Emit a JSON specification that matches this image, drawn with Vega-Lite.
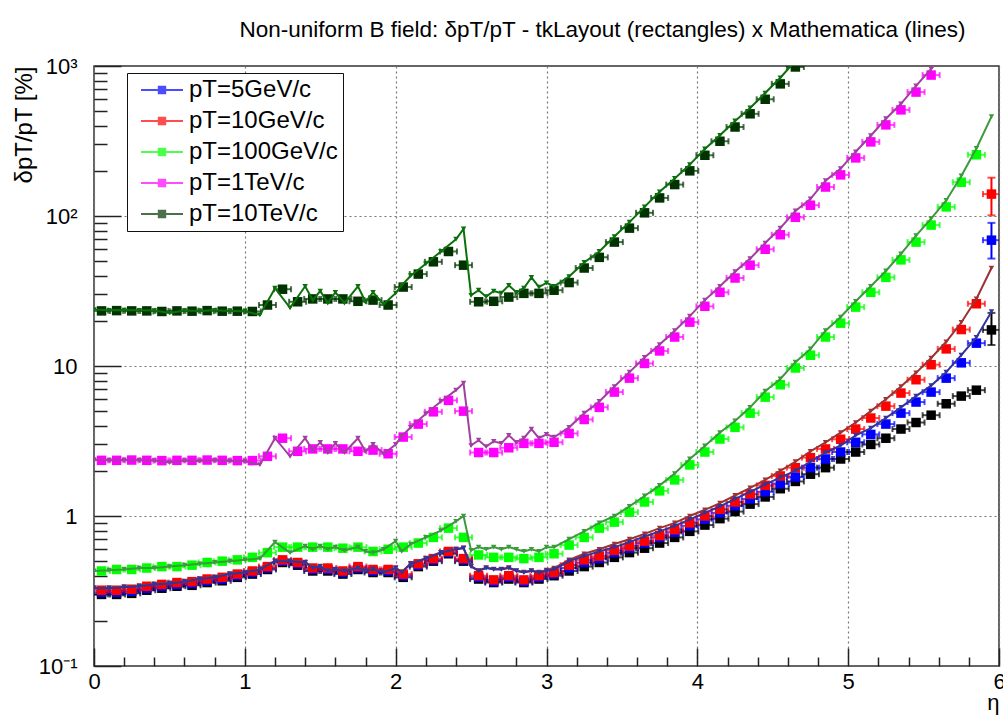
{
"$schema": "https://vega.github.io/schema/vega-lite/v6.json",
"width": 905, "height": 600,
"autosize": "none",
"padding": {"left": 94, "top": 66, "right": 4, "bottom": 52},
"background": "white",
"title": {"text": "Non-uniform B field: δpT/pT - tkLayout (rectangles) x Mathematica (lines)", "font": "Liberation Sans", "fontSize": 22.5, "fontWeight": "normal", "color": "black", "anchor": "middle", "dx": 56, "offset": 14},
"config": {"view": {"stroke": "#333333", "strokeWidth": 1.5}, "font": "Liberation Sans"},
"datasets": {
"pts": [
{"s":"other","e":0.05,"v":0.30},{"s":"other","e":0.15,"v":0.30},{"s":"other","e":0.25,"v":0.305},{"s":"other","e":0.35,"v":0.32},{"s":"other","e":0.45,"v":0.33},{"s":"other","e":0.55,"v":0.34},{"s":"other","e":0.65,"v":0.345},{"s":"other","e":0.75,"v":0.36},{"s":"other","e":0.85,"v":0.37},{"s":"other","e":0.95,"v":0.39},{"s":"other","e":1.05,"v":0.41},{"s":"other","e":1.15,"v":0.44},{"s":"other","e":1.25,"v":0.49},{"s":"other","e":1.35,"v":0.47},{"s":"other","e":1.45,"v":0.43},{"s":"other","e":1.55,"v":0.43},{"s":"other","e":1.65,"v":0.41},{"s":"other","e":1.75,"v":0.44},{"s":"other","e":1.85,"v":0.42},{"s":"other","e":1.95,"v":0.42},{"s":"other","e":2.05,"v":0.39},{"s":"other","e":2.15,"v":0.46},{"s":"other","e":2.25,"v":0.50},{"s":"other","e":2.35,"v":0.56},{"s":"other","e":2.45,"v":0.50},{"s":"other","e":2.55,"v":0.38},{"s":"other","e":2.65,"v":0.36},{"s":"other","e":2.75,"v":0.38},{"s":"other","e":2.85,"v":0.36},{"s":"other","e":2.95,"v":0.38},{"s":"other","e":3.05,"v":0.40},{"s":"other","e":3.15,"v":0.43},{"s":"other","e":3.25,"v":0.46},{"s":"other","e":3.35,"v":0.49},{"s":"other","e":3.45,"v":0.53},{"s":"other","e":3.55,"v":0.57},{"s":"other","e":3.65,"v":0.61},{"s":"other","e":3.75,"v":0.66},{"s":"other","e":3.85,"v":0.72},{"s":"other","e":3.95,"v":0.79},{"s":"other","e":4.05,"v":0.87},{"s":"other","e":4.15,"v":0.96},{"s":"other","e":4.25,"v":1.07},{"s":"other","e":4.35,"v":1.2},{"s":"other","e":4.45,"v":1.34},{"s":"other","e":4.55,"v":1.52},{"s":"other","e":4.65,"v":1.7},{"s":"other","e":4.75,"v":1.9},{"s":"other","e":4.85,"v":2.1},{"s":"other","e":4.95,"v":2.4},{"s":"other","e":5.05,"v":2.67},{"s":"other","e":5.15,"v":3.0},{"s":"other","e":5.25,"v":3.3},{"s":"other","e":5.35,"v":3.8},{"s":"other","e":5.45,"v":4.2},{"s":"other","e":5.55,"v":4.7},{"s":"other","e":5.65,"v":5.6},{"s":"other","e":5.75,"v":6.3},{"s":"other","e":5.85,"v":6.9},{"s":"other","e":5.95,"v":17.4},
{"s":"pT=5GeV/c","e":0.05,"v":0.31},{"s":"pT=5GeV/c","e":0.15,"v":0.31},{"s":"pT=5GeV/c","e":0.25,"v":0.315},{"s":"pT=5GeV/c","e":0.35,"v":0.33},{"s":"pT=5GeV/c","e":0.45,"v":0.34},{"s":"pT=5GeV/c","e":0.55,"v":0.35},{"s":"pT=5GeV/c","e":0.65,"v":0.355},{"s":"pT=5GeV/c","e":0.75,"v":0.37},{"s":"pT=5GeV/c","e":0.85,"v":0.38},{"s":"pT=5GeV/c","e":0.95,"v":0.40},{"s":"pT=5GeV/c","e":1.05,"v":0.42},{"s":"pT=5GeV/c","e":1.15,"v":0.45},{"s":"pT=5GeV/c","e":1.25,"v":0.50},{"s":"pT=5GeV/c","e":1.35,"v":0.48},{"s":"pT=5GeV/c","e":1.45,"v":0.44},{"s":"pT=5GeV/c","e":1.55,"v":0.44},{"s":"pT=5GeV/c","e":1.65,"v":0.42},{"s":"pT=5GeV/c","e":1.75,"v":0.45},{"s":"pT=5GeV/c","e":1.85,"v":0.43},{"s":"pT=5GeV/c","e":1.95,"v":0.43},{"s":"pT=5GeV/c","e":2.05,"v":0.40},{"s":"pT=5GeV/c","e":2.15,"v":0.47},{"s":"pT=5GeV/c","e":2.25,"v":0.51},{"s":"pT=5GeV/c","e":2.35,"v":0.57},{"s":"pT=5GeV/c","e":2.45,"v":0.51},{"s":"pT=5GeV/c","e":2.55,"v":0.39},{"s":"pT=5GeV/c","e":2.65,"v":0.365},{"s":"pT=5GeV/c","e":2.75,"v":0.39},{"s":"pT=5GeV/c","e":2.85,"v":0.365},{"s":"pT=5GeV/c","e":2.95,"v":0.39},{"s":"pT=5GeV/c","e":3.05,"v":0.41},{"s":"pT=5GeV/c","e":3.15,"v":0.45},{"s":"pT=5GeV/c","e":3.25,"v":0.49},{"s":"pT=5GeV/c","e":3.35,"v":0.52},{"s":"pT=5GeV/c","e":3.45,"v":0.57},{"s":"pT=5GeV/c","e":3.55,"v":0.61},{"s":"pT=5GeV/c","e":3.65,"v":0.66},{"s":"pT=5GeV/c","e":3.75,"v":0.72},{"s":"pT=5GeV/c","e":3.85,"v":0.78},{"s":"pT=5GeV/c","e":3.95,"v":0.86},{"s":"pT=5GeV/c","e":4.05,"v":0.95},{"s":"pT=5GeV/c","e":4.15,"v":1.05},{"s":"pT=5GeV/c","e":4.25,"v":1.17},{"s":"pT=5GeV/c","e":4.35,"v":1.3},{"s":"pT=5GeV/c","e":4.45,"v":1.45},{"s":"pT=5GeV/c","e":4.55,"v":1.64},{"s":"pT=5GeV/c","e":4.65,"v":1.82},{"s":"pT=5GeV/c","e":4.75,"v":2.1},{"s":"pT=5GeV/c","e":4.85,"v":2.4},{"s":"pT=5GeV/c","e":4.95,"v":2.67},{"s":"pT=5GeV/c","e":5.05,"v":3.1},{"s":"pT=5GeV/c","e":5.15,"v":3.5},{"s":"pT=5GeV/c","e":5.25,"v":4.1},{"s":"pT=5GeV/c","e":5.35,"v":4.85},{"s":"pT=5GeV/c","e":5.45,"v":5.75},{"s":"pT=5GeV/c","e":5.55,"v":6.7},{"s":"pT=5GeV/c","e":5.65,"v":8.3},{"s":"pT=5GeV/c","e":5.75,"v":10.5},{"s":"pT=5GeV/c","e":5.85,"v":14.2},{"s":"pT=5GeV/c","e":5.95,"v":69},
{"s":"pT=10GeV/c","e":0.05,"v":0.32},{"s":"pT=10GeV/c","e":0.15,"v":0.32},{"s":"pT=10GeV/c","e":0.25,"v":0.325},{"s":"pT=10GeV/c","e":0.35,"v":0.34},{"s":"pT=10GeV/c","e":0.45,"v":0.35},{"s":"pT=10GeV/c","e":0.55,"v":0.36},{"s":"pT=10GeV/c","e":0.65,"v":0.365},{"s":"pT=10GeV/c","e":0.75,"v":0.38},{"s":"pT=10GeV/c","e":0.85,"v":0.39},{"s":"pT=10GeV/c","e":0.95,"v":0.41},{"s":"pT=10GeV/c","e":1.05,"v":0.43},{"s":"pT=10GeV/c","e":1.15,"v":0.46},{"s":"pT=10GeV/c","e":1.25,"v":0.51},{"s":"pT=10GeV/c","e":1.35,"v":0.49},{"s":"pT=10GeV/c","e":1.45,"v":0.45},{"s":"pT=10GeV/c","e":1.55,"v":0.45},{"s":"pT=10GeV/c","e":1.65,"v":0.43},{"s":"pT=10GeV/c","e":1.75,"v":0.46},{"s":"pT=10GeV/c","e":1.85,"v":0.44},{"s":"pT=10GeV/c","e":1.95,"v":0.44},{"s":"pT=10GeV/c","e":2.05,"v":0.41},{"s":"pT=10GeV/c","e":2.15,"v":0.48},{"s":"pT=10GeV/c","e":2.25,"v":0.52},{"s":"pT=10GeV/c","e":2.35,"v":0.58},{"s":"pT=10GeV/c","e":2.45,"v":0.52},{"s":"pT=10GeV/c","e":2.55,"v":0.40},{"s":"pT=10GeV/c","e":2.65,"v":0.375},{"s":"pT=10GeV/c","e":2.75,"v":0.40},{"s":"pT=10GeV/c","e":2.85,"v":0.375},{"s":"pT=10GeV/c","e":2.95,"v":0.40},{"s":"pT=10GeV/c","e":3.05,"v":0.42},{"s":"pT=10GeV/c","e":3.15,"v":0.47},{"s":"pT=10GeV/c","e":3.25,"v":0.51},{"s":"pT=10GeV/c","e":3.35,"v":0.54},{"s":"pT=10GeV/c","e":3.45,"v":0.59},{"s":"pT=10GeV/c","e":3.55,"v":0.63},{"s":"pT=10GeV/c","e":3.65,"v":0.68},{"s":"pT=10GeV/c","e":3.75,"v":0.74},{"s":"pT=10GeV/c","e":3.85,"v":0.81},{"s":"pT=10GeV/c","e":3.95,"v":0.9},{"s":"pT=10GeV/c","e":4.05,"v":1.0},{"s":"pT=10GeV/c","e":4.15,"v":1.11},{"s":"pT=10GeV/c","e":4.25,"v":1.24},{"s":"pT=10GeV/c","e":4.35,"v":1.4},{"s":"pT=10GeV/c","e":4.45,"v":1.6},{"s":"pT=10GeV/c","e":4.55,"v":1.85},{"s":"pT=10GeV/c","e":4.65,"v":2.1},{"s":"pT=10GeV/c","e":4.75,"v":2.45},{"s":"pT=10GeV/c","e":4.85,"v":2.8},{"s":"pT=10GeV/c","e":4.95,"v":3.25},{"s":"pT=10GeV/c","e":5.05,"v":3.8},{"s":"pT=10GeV/c","e":5.15,"v":4.5},{"s":"pT=10GeV/c","e":5.25,"v":5.4},{"s":"pT=10GeV/c","e":5.35,"v":6.6},{"s":"pT=10GeV/c","e":5.45,"v":8.1},{"s":"pT=10GeV/c","e":5.55,"v":10.2},{"s":"pT=10GeV/c","e":5.65,"v":13.0},{"s":"pT=10GeV/c","e":5.75,"v":17.5},{"s":"pT=10GeV/c","e":5.85,"v":26},{"s":"pT=10GeV/c","e":5.95,"v":140},
{"s":"pT=100GeV/c","e":0.05,"v":0.43},{"s":"pT=100GeV/c","e":0.15,"v":0.44},{"s":"pT=100GeV/c","e":0.25,"v":0.44},{"s":"pT=100GeV/c","e":0.35,"v":0.45},{"s":"pT=100GeV/c","e":0.45,"v":0.46},{"s":"pT=100GeV/c","e":0.55,"v":0.46},{"s":"pT=100GeV/c","e":0.65,"v":0.47},{"s":"pT=100GeV/c","e":0.75,"v":0.49},{"s":"pT=100GeV/c","e":0.85,"v":0.50},{"s":"pT=100GeV/c","e":0.95,"v":0.51},{"s":"pT=100GeV/c","e":1.05,"v":0.53},{"s":"pT=100GeV/c","e":1.15,"v":0.57},{"s":"pT=100GeV/c","e":1.25,"v":0.62},{"s":"pT=100GeV/c","e":1.35,"v":0.62},{"s":"pT=100GeV/c","e":1.45,"v":0.62},{"s":"pT=100GeV/c","e":1.55,"v":0.62},{"s":"pT=100GeV/c","e":1.65,"v":0.61},{"s":"pT=100GeV/c","e":1.75,"v":0.62},{"s":"pT=100GeV/c","e":1.85,"v":0.58},{"s":"pT=100GeV/c","e":1.95,"v":0.60},{"s":"pT=100GeV/c","e":2.05,"v":0.62},{"s":"pT=100GeV/c","e":2.15,"v":0.66},{"s":"pT=100GeV/c","e":2.25,"v":0.72},{"s":"pT=100GeV/c","e":2.35,"v":0.83},{"s":"pT=100GeV/c","e":2.45,"v":0.72},{"s":"pT=100GeV/c","e":2.55,"v":0.55},{"s":"pT=100GeV/c","e":2.65,"v":0.53},{"s":"pT=100GeV/c","e":2.75,"v":0.53},{"s":"pT=100GeV/c","e":2.85,"v":0.52},{"s":"pT=100GeV/c","e":2.95,"v":0.53},{"s":"pT=100GeV/c","e":3.05,"v":0.56},{"s":"pT=100GeV/c","e":3.15,"v":0.64},{"s":"pT=100GeV/c","e":3.25,"v":0.72},{"s":"pT=100GeV/c","e":3.35,"v":0.83},{"s":"pT=100GeV/c","e":3.45,"v":0.91},{"s":"pT=100GeV/c","e":3.55,"v":1.06},{"s":"pT=100GeV/c","e":3.65,"v":1.24},{"s":"pT=100GeV/c","e":3.75,"v":1.47},{"s":"pT=100GeV/c","e":3.85,"v":1.74},{"s":"pT=100GeV/c","e":3.95,"v":2.19},{"s":"pT=100GeV/c","e":4.05,"v":2.67},{"s":"pT=100GeV/c","e":4.15,"v":3.26},{"s":"pT=100GeV/c","e":4.25,"v":3.9},{"s":"pT=100GeV/c","e":4.35,"v":4.85},{"s":"pT=100GeV/c","e":4.45,"v":6.2},{"s":"pT=100GeV/c","e":4.55,"v":7.5},{"s":"pT=100GeV/c","e":4.65,"v":9.7},{"s":"pT=100GeV/c","e":4.75,"v":11.8},{"s":"pT=100GeV/c","e":4.85,"v":15.6},{"s":"pT=100GeV/c","e":4.95,"v":19.3},{"s":"pT=100GeV/c","e":5.05,"v":24.7},{"s":"pT=100GeV/c","e":5.15,"v":31},{"s":"pT=100GeV/c","e":5.25,"v":39},{"s":"pT=100GeV/c","e":5.35,"v":51},{"s":"pT=100GeV/c","e":5.45,"v":67},{"s":"pT=100GeV/c","e":5.55,"v":87},{"s":"pT=100GeV/c","e":5.65,"v":115},{"s":"pT=100GeV/c","e":5.75,"v":168},{"s":"pT=100GeV/c","e":5.85,"v":256},
{"s":"pT=1TeV/c","e":0.05,"v":2.35},{"s":"pT=1TeV/c","e":0.15,"v":2.35},{"s":"pT=1TeV/c","e":0.25,"v":2.36},{"s":"pT=1TeV/c","e":0.35,"v":2.35},{"s":"pT=1TeV/c","e":0.45,"v":2.34},{"s":"pT=1TeV/c","e":0.55,"v":2.35},{"s":"pT=1TeV/c","e":0.65,"v":2.35},{"s":"pT=1TeV/c","e":0.75,"v":2.36},{"s":"pT=1TeV/c","e":0.85,"v":2.35},{"s":"pT=1TeV/c","e":0.95,"v":2.34},{"s":"pT=1TeV/c","e":1.05,"v":2.34},{"s":"pT=1TeV/c","e":1.15,"v":2.5},{"s":"pT=1TeV/c","e":1.25,"v":3.3},{"s":"pT=1TeV/c","e":1.35,"v":2.7},{"s":"pT=1TeV/c","e":1.45,"v":2.8},{"s":"pT=1TeV/c","e":1.55,"v":2.8},{"s":"pT=1TeV/c","e":1.65,"v":2.8},{"s":"pT=1TeV/c","e":1.75,"v":2.7},{"s":"pT=1TeV/c","e":1.85,"v":2.75},{"s":"pT=1TeV/c","e":1.95,"v":2.6},{"s":"pT=1TeV/c","e":2.05,"v":3.36},{"s":"pT=1TeV/c","e":2.15,"v":4.1},{"s":"pT=1TeV/c","e":2.25,"v":4.95},{"s":"pT=1TeV/c","e":2.35,"v":5.9},{"s":"pT=1TeV/c","e":2.45,"v":5.0},{"s":"pT=1TeV/c","e":2.55,"v":2.65},{"s":"pT=1TeV/c","e":2.65,"v":2.65},{"s":"pT=1TeV/c","e":2.75,"v":2.85},{"s":"pT=1TeV/c","e":2.85,"v":3.05},{"s":"pT=1TeV/c","e":2.95,"v":3.05},{"s":"pT=1TeV/c","e":3.05,"v":3.1},{"s":"pT=1TeV/c","e":3.15,"v":3.55},{"s":"pT=1TeV/c","e":3.25,"v":4.4},{"s":"pT=1TeV/c","e":3.35,"v":5.3},{"s":"pT=1TeV/c","e":3.45,"v":6.7},{"s":"pT=1TeV/c","e":3.55,"v":8.3},{"s":"pT=1TeV/c","e":3.65,"v":10.4},{"s":"pT=1TeV/c","e":3.75,"v":12.6},{"s":"pT=1TeV/c","e":3.85,"v":15.6},{"s":"pT=1TeV/c","e":3.95,"v":19.6},{"s":"pT=1TeV/c","e":4.05,"v":25},{"s":"pT=1TeV/c","e":4.15,"v":31},{"s":"pT=1TeV/c","e":4.25,"v":38.6},{"s":"pT=1TeV/c","e":4.35,"v":47},{"s":"pT=1TeV/c","e":4.45,"v":60},{"s":"pT=1TeV/c","e":4.55,"v":75},{"s":"pT=1TeV/c","e":4.65,"v":98},{"s":"pT=1TeV/c","e":4.75,"v":118},{"s":"pT=1TeV/c","e":4.85,"v":156},{"s":"pT=1TeV/c","e":4.95,"v":188},{"s":"pT=1TeV/c","e":5.05,"v":244},{"s":"pT=1TeV/c","e":5.15,"v":312},{"s":"pT=1TeV/c","e":5.25,"v":405},{"s":"pT=1TeV/c","e":5.35,"v":510},{"s":"pT=1TeV/c","e":5.45,"v":670},{"s":"pT=1TeV/c","e":5.55,"v":870},
{"s":"pT=10TeV/c","e":0.05,"v":23.3},{"s":"pT=10TeV/c","e":0.15,"v":23.4},{"s":"pT=10TeV/c","e":0.25,"v":23.3},{"s":"pT=10TeV/c","e":0.35,"v":23.3},{"s":"pT=10TeV/c","e":0.45,"v":23.1},{"s":"pT=10TeV/c","e":0.55,"v":23.3},{"s":"pT=10TeV/c","e":0.65,"v":23.2},{"s":"pT=10TeV/c","e":0.75,"v":23.4},{"s":"pT=10TeV/c","e":0.85,"v":23.2},{"s":"pT=10TeV/c","e":0.95,"v":23.2},{"s":"pT=10TeV/c","e":1.05,"v":23.1},{"s":"pT=10TeV/c","e":1.15,"v":25.5},{"s":"pT=10TeV/c","e":1.25,"v":32.5},{"s":"pT=10TeV/c","e":1.35,"v":26.8},{"s":"pT=10TeV/c","e":1.45,"v":28},{"s":"pT=10TeV/c","e":1.55,"v":28},{"s":"pT=10TeV/c","e":1.65,"v":28},{"s":"pT=10TeV/c","e":1.75,"v":27},{"s":"pT=10TeV/c","e":1.85,"v":27.5},{"s":"pT=10TeV/c","e":1.95,"v":25.5},{"s":"pT=10TeV/c","e":2.05,"v":33.6},{"s":"pT=10TeV/c","e":2.15,"v":41},{"s":"pT=10TeV/c","e":2.25,"v":49.5},{"s":"pT=10TeV/c","e":2.35,"v":58},{"s":"pT=10TeV/c","e":2.45,"v":47},{"s":"pT=10TeV/c","e":2.55,"v":26.8},{"s":"pT=10TeV/c","e":2.65,"v":27},{"s":"pT=10TeV/c","e":2.75,"v":28.8},{"s":"pT=10TeV/c","e":2.85,"v":30.5},{"s":"pT=10TeV/c","e":2.95,"v":30.5},{"s":"pT=10TeV/c","e":3.05,"v":32},{"s":"pT=10TeV/c","e":3.15,"v":36},{"s":"pT=10TeV/c","e":3.25,"v":45},{"s":"pT=10TeV/c","e":3.35,"v":53},{"s":"pT=10TeV/c","e":3.45,"v":67},{"s":"pT=10TeV/c","e":3.55,"v":83},{"s":"pT=10TeV/c","e":3.65,"v":105},{"s":"pT=10TeV/c","e":3.75,"v":132},{"s":"pT=10TeV/c","e":3.85,"v":162},{"s":"pT=10TeV/c","e":3.95,"v":200},{"s":"pT=10TeV/c","e":4.05,"v":254},{"s":"pT=10TeV/c","e":4.15,"v":315},{"s":"pT=10TeV/c","e":4.25,"v":392},{"s":"pT=10TeV/c","e":4.35,"v":480},{"s":"pT=10TeV/c","e":4.45,"v":600},{"s":"pT=10TeV/c","e":4.55,"v":760},{"s":"pT=10TeV/c","e":4.65,"v":985}
],
"errs": [
{"s":"other","e":5.95,"v":13.8,"hi":22.6},
{"s":"pT=5GeV/c","e":5.95,"v":52,"hi":90},
{"s":"pT=10GeV/c","e":5.95,"v":101,"hi":180}
],
"caps": [
{"s":"other","e":5.95,"v":13.8},{"s":"other","e":5.95,"v":22.6},
{"s":"pT=5GeV/c","e":5.95,"v":52},{"s":"pT=5GeV/c","e":5.95,"v":90},
{"s":"pT=10GeV/c","e":5.95,"v":101},{"s":"pT=10GeV/c","e":5.95,"v":180}
],
"lines": [
{"s":"pT=10GeV/c","e":0,"v":0.333},{"s":"pT=10GeV/c","e":0.1,"v":0.333},{"s":"pT=10GeV/c","e":0.2,"v":0.338},{"s":"pT=10GeV/c","e":0.3,"v":0.343},{"s":"pT=10GeV/c","e":0.4,"v":0.353},{"s":"pT=10GeV/c","e":0.5,"v":0.358},{"s":"pT=10GeV/c","e":0.6,"v":0.368},{"s":"pT=10GeV/c","e":0.7,"v":0.383},{"s":"pT=10GeV/c","e":0.8,"v":0.393},{"s":"pT=10GeV/c","e":0.9,"v":0.413},{"s":"pT=10GeV/c","e":1.0,"v":0.423},{"s":"pT=10GeV/c","e":1.1,"v":0.443},{"s":"pT=10GeV/c","e":1.2,"v":0.503},{"s":"pT=10GeV/c","e":1.3,"v":0.503},{"s":"pT=10GeV/c","e":1.4,"v":0.493},{"s":"pT=10GeV/c","e":1.45,"v":0.453},{"s":"pT=10GeV/c","e":1.5,"v":0.463},{"s":"pT=10GeV/c","e":1.55,"v":0.433},{"s":"pT=10GeV/c","e":1.6,"v":0.443},{"s":"pT=10GeV/c","e":1.66,"v":0.433},{"s":"pT=10GeV/c","e":1.75,"v":0.453},{"s":"pT=10GeV/c","e":1.8,"v":0.433},{"s":"pT=10GeV/c","e":1.85,"v":0.443},{"s":"pT=10GeV/c","e":1.92,"v":0.423},{"s":"pT=10GeV/c","e":2.0,"v":0.453},{"s":"pT=10GeV/c","e":2.04,"v":0.423},{"s":"pT=10GeV/c","e":2.1,"v":0.483},{"s":"pT=10GeV/c","e":2.2,"v":0.523},{"s":"pT=10GeV/c","e":2.3,"v":0.573},{"s":"pT=10GeV/c","e":2.4,"v":0.603},{"s":"pT=10GeV/c","e":2.45,"v":0.613},{"s":"pT=10GeV/c","e":2.5,"v":0.463},{"s":"pT=10GeV/c","e":2.55,"v":0.433},{"s":"pT=10GeV/c","e":2.6,"v":0.453},{"s":"pT=10GeV/c","e":2.65,"v":0.443},{"s":"pT=10GeV/c","e":2.7,"v":0.443},{"s":"pT=10GeV/c","e":2.75,"v":0.453},{"s":"pT=10GeV/c","e":2.8,"v":0.433},{"s":"pT=10GeV/c","e":2.85,"v":0.423},{"s":"pT=10GeV/c","e":2.9,"v":0.433},{"s":"pT=10GeV/c","e":2.95,"v":0.423},{"s":"pT=10GeV/c","e":3.0,"v":0.435},{"s":"pT=10GeV/c","e":3.05,"v":0.45},{"s":"pT=10GeV/c","e":3.15,"v":0.51},{"s":"pT=10GeV/c","e":3.25,"v":0.56},{"s":"pT=10GeV/c","e":3.35,"v":0.6},{"s":"pT=10GeV/c","e":3.45,"v":0.65},{"s":"pT=10GeV/c","e":3.55,"v":0.7},{"s":"pT=10GeV/c","e":3.65,"v":0.76},{"s":"pT=10GeV/c","e":3.75,"v":0.83},{"s":"pT=10GeV/c","e":3.85,"v":0.9},{"s":"pT=10GeV/c","e":3.95,"v":1.0},{"s":"pT=10GeV/c","e":4.05,"v":1.1},{"s":"pT=10GeV/c","e":4.15,"v":1.22},{"s":"pT=10GeV/c","e":4.25,"v":1.37},{"s":"pT=10GeV/c","e":4.35,"v":1.54},{"s":"pT=10GeV/c","e":4.45,"v":1.74},{"s":"pT=10GeV/c","e":4.55,"v":2.0},{"s":"pT=10GeV/c","e":4.65,"v":2.3},{"s":"pT=10GeV/c","e":4.75,"v":2.7},{"s":"pT=10GeV/c","e":4.85,"v":3.1},{"s":"pT=10GeV/c","e":4.95,"v":3.6},{"s":"pT=10GeV/c","e":5.05,"v":4.2},{"s":"pT=10GeV/c","e":5.15,"v":5.0},{"s":"pT=10GeV/c","e":5.25,"v":6.0},{"s":"pT=10GeV/c","e":5.35,"v":7.3},{"s":"pT=10GeV/c","e":5.45,"v":9.0},{"s":"pT=10GeV/c","e":5.55,"v":11.3},{"s":"pT=10GeV/c","e":5.65,"v":14.5},{"s":"pT=10GeV/c","e":5.75,"v":19.5},{"s":"pT=10GeV/c","e":5.85,"v":28},{"s":"pT=10GeV/c","e":5.95,"v":45},
{"s":"pT=5GeV/c","e":0,"v":0.33},{"s":"pT=5GeV/c","e":0.1,"v":0.33},{"s":"pT=5GeV/c","e":0.2,"v":0.335},{"s":"pT=5GeV/c","e":0.3,"v":0.34},{"s":"pT=5GeV/c","e":0.4,"v":0.35},{"s":"pT=5GeV/c","e":0.5,"v":0.355},{"s":"pT=5GeV/c","e":0.6,"v":0.365},{"s":"pT=5GeV/c","e":0.7,"v":0.38},{"s":"pT=5GeV/c","e":0.8,"v":0.39},{"s":"pT=5GeV/c","e":0.9,"v":0.41},{"s":"pT=5GeV/c","e":1.0,"v":0.42},{"s":"pT=5GeV/c","e":1.1,"v":0.44},{"s":"pT=5GeV/c","e":1.2,"v":0.5},{"s":"pT=5GeV/c","e":1.3,"v":0.5},{"s":"pT=5GeV/c","e":1.4,"v":0.49},{"s":"pT=5GeV/c","e":1.45,"v":0.45},{"s":"pT=5GeV/c","e":1.5,"v":0.46},{"s":"pT=5GeV/c","e":1.55,"v":0.43},{"s":"pT=5GeV/c","e":1.6,"v":0.44},{"s":"pT=5GeV/c","e":1.66,"v":0.43},{"s":"pT=5GeV/c","e":1.75,"v":0.45},{"s":"pT=5GeV/c","e":1.8,"v":0.43},{"s":"pT=5GeV/c","e":1.85,"v":0.44},{"s":"pT=5GeV/c","e":1.92,"v":0.42},{"s":"pT=5GeV/c","e":2.0,"v":0.45},{"s":"pT=5GeV/c","e":2.04,"v":0.42},{"s":"pT=5GeV/c","e":2.1,"v":0.48},{"s":"pT=5GeV/c","e":2.2,"v":0.52},{"s":"pT=5GeV/c","e":2.3,"v":0.57},{"s":"pT=5GeV/c","e":2.4,"v":0.6},{"s":"pT=5GeV/c","e":2.45,"v":0.61},{"s":"pT=5GeV/c","e":2.5,"v":0.46},{"s":"pT=5GeV/c","e":2.55,"v":0.43},{"s":"pT=5GeV/c","e":2.6,"v":0.45},{"s":"pT=5GeV/c","e":2.65,"v":0.44},{"s":"pT=5GeV/c","e":2.7,"v":0.44},{"s":"pT=5GeV/c","e":2.75,"v":0.45},{"s":"pT=5GeV/c","e":2.8,"v":0.43},{"s":"pT=5GeV/c","e":2.85,"v":0.42},{"s":"pT=5GeV/c","e":2.9,"v":0.43},{"s":"pT=5GeV/c","e":2.95,"v":0.42},{"s":"pT=5GeV/c","e":3.0,"v":0.43},{"s":"pT=5GeV/c","e":3.05,"v":0.44},{"s":"pT=5GeV/c","e":3.15,"v":0.5},{"s":"pT=5GeV/c","e":3.25,"v":0.54},{"s":"pT=5GeV/c","e":3.35,"v":0.58},{"s":"pT=5GeV/c","e":3.45,"v":0.62},{"s":"pT=5GeV/c","e":3.55,"v":0.67},{"s":"pT=5GeV/c","e":3.65,"v":0.73},{"s":"pT=5GeV/c","e":3.75,"v":0.79},{"s":"pT=5GeV/c","e":3.85,"v":0.86},{"s":"pT=5GeV/c","e":3.95,"v":0.95},{"s":"pT=5GeV/c","e":4.05,"v":1.05},{"s":"pT=5GeV/c","e":4.15,"v":1.16},{"s":"pT=5GeV/c","e":4.25,"v":1.3},{"s":"pT=5GeV/c","e":4.35,"v":1.45},{"s":"pT=5GeV/c","e":4.45,"v":1.62},{"s":"pT=5GeV/c","e":4.55,"v":1.81},{"s":"pT=5GeV/c","e":4.65,"v":2.0},{"s":"pT=5GeV/c","e":4.75,"v":2.3},{"s":"pT=5GeV/c","e":4.85,"v":2.65},{"s":"pT=5GeV/c","e":4.95,"v":2.95},{"s":"pT=5GeV/c","e":5.05,"v":3.45},{"s":"pT=5GeV/c","e":5.15,"v":3.85},{"s":"pT=5GeV/c","e":5.25,"v":4.5},{"s":"pT=5GeV/c","e":5.35,"v":5.3},{"s":"pT=5GeV/c","e":5.45,"v":6.3},{"s":"pT=5GeV/c","e":5.55,"v":7.4},{"s":"pT=5GeV/c","e":5.65,"v":9.1},{"s":"pT=5GeV/c","e":5.75,"v":11.8},{"s":"pT=5GeV/c","e":5.85,"v":15.5},{"s":"pT=5GeV/c","e":5.95,"v":23},
{"s":"pT=100GeV/c","e":0,"v":0.43},{"s":"pT=100GeV/c","e":0.1,"v":0.435},{"s":"pT=100GeV/c","e":0.2,"v":0.44},{"s":"pT=100GeV/c","e":0.3,"v":0.45},{"s":"pT=100GeV/c","e":0.4,"v":0.45},{"s":"pT=100GeV/c","e":0.5,"v":0.46},{"s":"pT=100GeV/c","e":0.6,"v":0.47},{"s":"pT=100GeV/c","e":0.7,"v":0.48},{"s":"pT=100GeV/c","e":0.8,"v":0.49},{"s":"pT=100GeV/c","e":0.9,"v":0.5},{"s":"pT=100GeV/c","e":1.0,"v":0.51},{"s":"pT=100GeV/c","e":1.1,"v":0.52},{"s":"pT=100GeV/c","e":1.2,"v":0.67},{"s":"pT=100GeV/c","e":1.3,"v":0.57},{"s":"pT=100GeV/c","e":1.4,"v":0.63},{"s":"pT=100GeV/c","e":1.45,"v":0.6},{"s":"pT=100GeV/c","e":1.5,"v":0.63},{"s":"pT=100GeV/c","e":1.55,"v":0.6},{"s":"pT=100GeV/c","e":1.6,"v":0.62},{"s":"pT=100GeV/c","e":1.66,"v":0.59},{"s":"pT=100GeV/c","e":1.75,"v":0.62},{"s":"pT=100GeV/c","e":1.8,"v":0.58},{"s":"pT=100GeV/c","e":1.85,"v":0.57},{"s":"pT=100GeV/c","e":1.92,"v":0.6},{"s":"pT=100GeV/c","e":2.0,"v":0.68},{"s":"pT=100GeV/c","e":2.04,"v":0.58},{"s":"pT=100GeV/c","e":2.1,"v":0.65},{"s":"pT=100GeV/c","e":2.2,"v":0.72},{"s":"pT=100GeV/c","e":2.3,"v":0.8},{"s":"pT=100GeV/c","e":2.4,"v":0.92},{"s":"pT=100GeV/c","e":2.45,"v":1.0},{"s":"pT=100GeV/c","e":2.5,"v":0.59},{"s":"pT=100GeV/c","e":2.55,"v":0.62},{"s":"pT=100GeV/c","e":2.6,"v":0.6},{"s":"pT=100GeV/c","e":2.65,"v":0.62},{"s":"pT=100GeV/c","e":2.7,"v":0.6},{"s":"pT=100GeV/c","e":2.75,"v":0.62},{"s":"pT=100GeV/c","e":2.8,"v":0.6},{"s":"pT=100GeV/c","e":2.85,"v":0.58},{"s":"pT=100GeV/c","e":2.9,"v":0.6},{"s":"pT=100GeV/c","e":2.95,"v":0.58},{"s":"pT=100GeV/c","e":3.0,"v":0.62},{"s":"pT=100GeV/c","e":3.05,"v":0.62},{"s":"pT=100GeV/c","e":3.15,"v":0.7},{"s":"pT=100GeV/c","e":3.25,"v":0.79},{"s":"pT=100GeV/c","e":3.35,"v":0.9},{"s":"pT=100GeV/c","e":3.45,"v":1.0},{"s":"pT=100GeV/c","e":3.55,"v":1.16},{"s":"pT=100GeV/c","e":3.65,"v":1.36},{"s":"pT=100GeV/c","e":3.75,"v":1.6},{"s":"pT=100GeV/c","e":3.85,"v":1.92},{"s":"pT=100GeV/c","e":3.95,"v":2.4},{"s":"pT=100GeV/c","e":4.05,"v":2.93},{"s":"pT=100GeV/c","e":4.15,"v":3.6},{"s":"pT=100GeV/c","e":4.25,"v":4.3},{"s":"pT=100GeV/c","e":4.35,"v":5.3},{"s":"pT=100GeV/c","e":4.45,"v":6.8},{"s":"pT=100GeV/c","e":4.55,"v":8.2},{"s":"pT=100GeV/c","e":4.65,"v":10.6},{"s":"pT=100GeV/c","e":4.75,"v":13},{"s":"pT=100GeV/c","e":4.85,"v":17.2},{"s":"pT=100GeV/c","e":4.95,"v":21.2},{"s":"pT=100GeV/c","e":5.05,"v":27},{"s":"pT=100GeV/c","e":5.15,"v":34},{"s":"pT=100GeV/c","e":5.25,"v":43},{"s":"pT=100GeV/c","e":5.35,"v":56},{"s":"pT=100GeV/c","e":5.45,"v":74},{"s":"pT=100GeV/c","e":5.55,"v":96},{"s":"pT=100GeV/c","e":5.65,"v":127},{"s":"pT=100GeV/c","e":5.75,"v":185},{"s":"pT=100GeV/c","e":5.85,"v":282},{"s":"pT=100GeV/c","e":5.95,"v":460},
{"s":"pT=1TeV/c","e":0,"v":2.38},{"s":"pT=1TeV/c","e":0.1,"v":2.35},{"s":"pT=1TeV/c","e":0.2,"v":2.36},{"s":"pT=1TeV/c","e":0.3,"v":2.35},{"s":"pT=1TeV/c","e":0.4,"v":2.34},{"s":"pT=1TeV/c","e":0.5,"v":2.27},{"s":"pT=1TeV/c","e":0.6,"v":2.34},{"s":"pT=1TeV/c","e":0.7,"v":2.33},{"s":"pT=1TeV/c","e":0.8,"v":2.35},{"s":"pT=1TeV/c","e":0.9,"v":2.33},{"s":"pT=1TeV/c","e":1.0,"v":2.32},{"s":"pT=1TeV/c","e":1.1,"v":2.2},{"s":"pT=1TeV/c","e":1.2,"v":3.3},{"s":"pT=1TeV/c","e":1.3,"v":2.5},{"s":"pT=1TeV/c","e":1.4,"v":3.3},{"s":"pT=1TeV/c","e":1.45,"v":2.75},{"s":"pT=1TeV/c","e":1.5,"v":3.1},{"s":"pT=1TeV/c","e":1.55,"v":2.65},{"s":"pT=1TeV/c","e":1.6,"v":3.05},{"s":"pT=1TeV/c","e":1.66,"v":2.65},{"s":"pT=1TeV/c","e":1.75,"v":3.3},{"s":"pT=1TeV/c","e":1.8,"v":2.7},{"s":"pT=1TeV/c","e":1.85,"v":3.0},{"s":"pT=1TeV/c","e":1.92,"v":2.6},{"s":"pT=1TeV/c","e":2.0,"v":3.0},{"s":"pT=1TeV/c","e":2.04,"v":3.4},{"s":"pT=1TeV/c","e":2.1,"v":3.9},{"s":"pT=1TeV/c","e":2.2,"v":4.8},{"s":"pT=1TeV/c","e":2.3,"v":5.8},{"s":"pT=1TeV/c","e":2.4,"v":6.9},{"s":"pT=1TeV/c","e":2.45,"v":7.7},{"s":"pT=1TeV/c","e":2.5,"v":2.95},{"s":"pT=1TeV/c","e":2.55,"v":3.2},{"s":"pT=1TeV/c","e":2.6,"v":2.9},{"s":"pT=1TeV/c","e":2.65,"v":3.15},{"s":"pT=1TeV/c","e":2.7,"v":3.05},{"s":"pT=1TeV/c","e":2.75,"v":3.45},{"s":"pT=1TeV/c","e":2.8,"v":3.1},{"s":"pT=1TeV/c","e":2.85,"v":3.3},{"s":"pT=1TeV/c","e":2.9,"v":3.8},{"s":"pT=1TeV/c","e":2.95,"v":3.3},{"s":"pT=1TeV/c","e":3.0,"v":3.5},{"s":"pT=1TeV/c","e":3.05,"v":3.35},{"s":"pT=1TeV/c","e":3.15,"v":3.9},{"s":"pT=1TeV/c","e":3.25,"v":4.85},{"s":"pT=1TeV/c","e":3.35,"v":5.8},{"s":"pT=1TeV/c","e":3.45,"v":7.3},{"s":"pT=1TeV/c","e":3.55,"v":9.1},{"s":"pT=1TeV/c","e":3.65,"v":11.4},{"s":"pT=1TeV/c","e":3.75,"v":13.9},{"s":"pT=1TeV/c","e":3.85,"v":17.2},{"s":"pT=1TeV/c","e":3.95,"v":21.5},{"s":"pT=1TeV/c","e":4.05,"v":27.5},{"s":"pT=1TeV/c","e":4.15,"v":34},{"s":"pT=1TeV/c","e":4.25,"v":42.5},{"s":"pT=1TeV/c","e":4.35,"v":52},{"s":"pT=1TeV/c","e":4.45,"v":66},{"s":"pT=1TeV/c","e":4.55,"v":83},{"s":"pT=1TeV/c","e":4.65,"v":108},{"s":"pT=1TeV/c","e":4.75,"v":130},{"s":"pT=1TeV/c","e":4.85,"v":172},{"s":"pT=1TeV/c","e":4.95,"v":207},{"s":"pT=1TeV/c","e":5.05,"v":268},{"s":"pT=1TeV/c","e":5.15,"v":343},{"s":"pT=1TeV/c","e":5.25,"v":445},{"s":"pT=1TeV/c","e":5.35,"v":560},{"s":"pT=1TeV/c","e":5.45,"v":737},{"s":"pT=1TeV/c","e":5.55,"v":957},{"s":"pT=1TeV/c","e":5.65,"v":1250},
{"s":"pT=10TeV/c","e":0,"v":23.8},{"s":"pT=10TeV/c","e":0.1,"v":23.5},{"s":"pT=10TeV/c","e":0.2,"v":23.6},{"s":"pT=10TeV/c","e":0.3,"v":23.5},{"s":"pT=10TeV/c","e":0.4,"v":23.4},{"s":"pT=10TeV/c","e":0.5,"v":22.6},{"s":"pT=10TeV/c","e":0.6,"v":23.4},{"s":"pT=10TeV/c","e":0.7,"v":23.3},{"s":"pT=10TeV/c","e":0.8,"v":23.5},{"s":"pT=10TeV/c","e":0.9,"v":23.3},{"s":"pT=10TeV/c","e":1.0,"v":23.2},{"s":"pT=10TeV/c","e":1.1,"v":21.9},{"s":"pT=10TeV/c","e":1.2,"v":33},{"s":"pT=10TeV/c","e":1.3,"v":24.4},{"s":"pT=10TeV/c","e":1.4,"v":34},{"s":"pT=10TeV/c","e":1.45,"v":27.5},{"s":"pT=10TeV/c","e":1.5,"v":31.6},{"s":"pT=10TeV/c","e":1.55,"v":26.3},{"s":"pT=10TeV/c","e":1.6,"v":31},{"s":"pT=10TeV/c","e":1.66,"v":26.3},{"s":"pT=10TeV/c","e":1.75,"v":34},{"s":"pT=10TeV/c","e":1.8,"v":26.8},{"s":"pT=10TeV/c","e":1.85,"v":31},{"s":"pT=10TeV/c","e":1.92,"v":25.8},{"s":"pT=10TeV/c","e":2.0,"v":30.6},{"s":"pT=10TeV/c","e":2.04,"v":34.5},{"s":"pT=10TeV/c","e":2.1,"v":40},{"s":"pT=10TeV/c","e":2.2,"v":48},{"s":"pT=10TeV/c","e":2.3,"v":58},{"s":"pT=10TeV/c","e":2.4,"v":70},{"s":"pT=10TeV/c","e":2.45,"v":82},{"s":"pT=10TeV/c","e":2.5,"v":29.6},{"s":"pT=10TeV/c","e":2.55,"v":32},{"s":"pT=10TeV/c","e":2.6,"v":29},{"s":"pT=10TeV/c","e":2.65,"v":31.6},{"s":"pT=10TeV/c","e":2.7,"v":30.6},{"s":"pT=10TeV/c","e":2.75,"v":34.5},{"s":"pT=10TeV/c","e":2.8,"v":31},{"s":"pT=10TeV/c","e":2.85,"v":33},{"s":"pT=10TeV/c","e":2.9,"v":39},{"s":"pT=10TeV/c","e":2.95,"v":33.6},{"s":"pT=10TeV/c","e":3.0,"v":35.8},{"s":"pT=10TeV/c","e":3.05,"v":34},{"s":"pT=10TeV/c","e":3.15,"v":39.5},{"s":"pT=10TeV/c","e":3.25,"v":49},{"s":"pT=10TeV/c","e":3.35,"v":58},{"s":"pT=10TeV/c","e":3.45,"v":73},{"s":"pT=10TeV/c","e":3.55,"v":91},{"s":"pT=10TeV/c","e":3.65,"v":115},{"s":"pT=10TeV/c","e":3.75,"v":145},{"s":"pT=10TeV/c","e":3.85,"v":178},{"s":"pT=10TeV/c","e":3.95,"v":220},{"s":"pT=10TeV/c","e":4.05,"v":280},{"s":"pT=10TeV/c","e":4.15,"v":345},{"s":"pT=10TeV/c","e":4.25,"v":430},{"s":"pT=10TeV/c","e":4.35,"v":525},{"s":"pT=10TeV/c","e":4.45,"v":660},{"s":"pT=10TeV/c","e":4.55,"v":835},{"s":"pT=10TeV/c","e":4.65,"v":1080}
]
},
"encoding": {
"x": {"field": "e", "type": "quantitative",
 "scale": {"domain": [0, 6], "nice": false, "zero": false},
 "axis": {"title": "η", "titleFont": "Liberation Sans", "titleFontSize": 22, "titleFontWeight": "normal", "titleColor": "black", "titleAnchor": "end", "titlePadding": -9,
  "values": [0,0.2,0.4,0.6,0.8,1,1.2,1.4,1.6,1.8,2,2.2,2.4,2.6,2.8,3,3.2,3.4,3.6,3.8,4,4.2,4.4,4.6,4.8,5,5.2,5.4,5.6,5.8,6],
  "labelExpr": "abs(datum.value - round(datum.value)) < 0.001 ? format(datum.value, 'd') : ''",
  "labelOverlap": false, "labelFont": "Liberation Sans", "labelFontSize": 22, "labelColor": "black", "labelPadding": 23, "labelFlush": false,
  "domain": false, "tickColor": "#222222", "tickWidth": 1.5,
  "tickSize": {"condition": {"test": "abs(datum.value - round(datum.value)) < 0.001", "value": -18}, "value": -9},
  "grid": true, "gridColor": "#777777", "gridDash": [2, 3], "gridWidth": 1.2,
  "gridOpacity": {"condition": {"test": "abs(datum.value - round(datum.value)) < 0.001", "value": 1}, "value": 0}}},
"y": {"field": "v", "type": "quantitative",
 "scale": {"type": "log", "domain": [0.1, 1000], "nice": false},
 "axis": {"title": "δpT/pT [%]", "titleFont": "Liberation Sans", "titleFontSize": 24, "titleFontWeight": "normal", "titleColor": "black", "titleAnchor": "end", "titlePadding": 2,
  "values": [0.1,0.2,0.3,0.4,0.5,0.6,0.7,0.8,0.9,1,2,3,4,5,6,7,8,9,10,20,30,40,50,60,70,80,90,100,200,300,400,500,600,700,800,900,1000],
  "labelExpr": "datum.value == 0.1 ? '10⁻¹' : datum.value == 1 ? '1' : datum.value == 10 ? '10' : datum.value == 100 ? '10²' : datum.value == 1000 ? '10³' : ''",
  "labelOverlap": false, "labelFont": "Liberation Sans", "labelFontSize": 22, "labelColor": "black", "labelPadding": 44, "labelFlush": false,
  "domain": false, "tickColor": "#222222", "tickWidth": 1.5,
  "tickSize": {"condition": {"test": "datum.value == 0.1 || datum.value == 1 || datum.value == 10 || datum.value == 100 || datum.value == 1000", "value": -27}, "value": -13},
  "grid": true, "gridColor": "#777777", "gridDash": [2, 3], "gridWidth": 1.2,
  "gridOpacity": {"condition": {"test": "datum.value == 1 || datum.value == 10 || datum.value == 100", "value": 1}, "value": 0}}}
},
"layer": [
{
"data": {"name": "pts"},
"encoding": {
"color": {"field": "s", "type": "nominal",
 "scale": {"domain": ["pT=5GeV/c","pT=10GeV/c","pT=100GeV/c","pT=1TeV/c","pT=10TeV/c","other"], "range": ["#0000ff","#ff0000","#00ff00","#ff00ff","#003300","#000000"]},
 "legend": {"orient": "none", "legendX": 33, "legendY": 7, "title": null,
  "values": ["pT=5GeV/c","pT=10GeV/c","pT=100GeV/c","pT=1TeV/c","pT=10TeV/c"],
  "symbolType": "M-3,-0.14H3V0.14H-3Z M-0.6,-0.6H0.6V0.6H-0.6Z", "symbolSize": 196, "symbolStrokeWidth": 0, "symbolOffset": 18,
  "labelFont": "Liberation Sans", "labelFontSize": 24, "labelColor": "black", "labelOffset": 15, "labelLimit": 300,
  "rowPadding": 7, "padding": 5, "fillColor": "white", "strokeColor": "#111111"}}
},
"layer": [
 {"mark": {"type": "tick", "orient": "horizontal", "size": 17, "thickness": 2, "clip": true}},
 {"mark": {"type": "tick", "orient": "vertical", "size": 6, "thickness": 2, "xOffset": -8.5, "clip": true}},
 {"mark": {"type": "tick", "orient": "vertical", "size": 6, "thickness": 2, "xOffset": 8.5, "clip": true}},
 {"mark": {"type": "point", "shape": "square", "filled": true, "size": 90, "opacity": 1, "clip": true}}
]
},
{
"data": {"name": "errs"},
"mark": {"type": "rule", "strokeWidth": 2, "clip": true},
"encoding": {
"y2": {"field": "hi"},
"color": {"field": "s", "type": "nominal", "legend": null,
 "scale": {"domain": ["pT=5GeV/c","pT=10GeV/c","other"], "range": ["#0000ff","#ff0000","#000000"]}}
}
},
{
"data": {"name": "caps"},
"mark": {"type": "tick", "orient": "horizontal", "size": 8, "thickness": 2, "clip": true},
"encoding": {
"color": {"field": "s", "type": "nominal", "legend": null,
 "scale": {"domain": ["pT=5GeV/c","pT=10GeV/c","other"], "range": ["#0000ff","#ff0000","#000000"]}}
}
},
{
"data": {"name": "lines"},
"mark": {"type": "line", "strokeWidth": 2, "clip": true, "point": {"shape": "triangle-down", "size": 30, "filled": true}},
"encoding": {
"color": {"field": "s", "type": "nominal", "legend": null,
 "scale": {"domain": ["pT=10GeV/c","pT=5GeV/c","pT=100GeV/c","pT=1TeV/c","pT=10TeV/c"], "range": ["#9b3333","#33339a","#3c9a3c","#a040a0","#0b700b"]}}
}
}
],
"resolve": {"scale": {"color": "independent"}}
}
